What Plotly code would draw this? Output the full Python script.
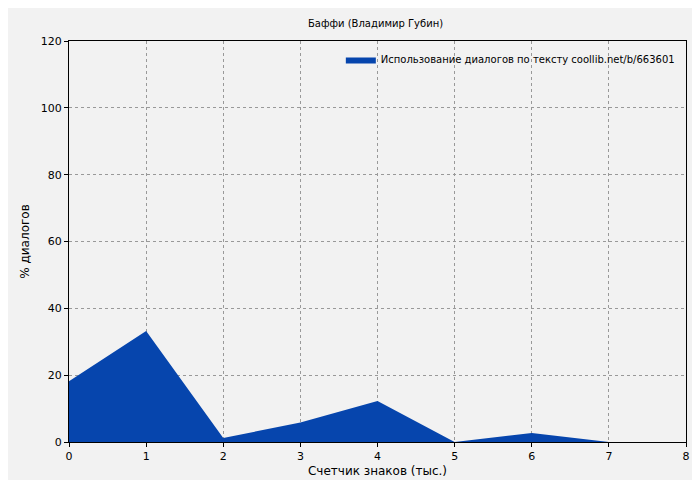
import plotly.graph_objects as go

x_vals = [0, 1, 2, 3, 4, 5, 6, 7]
dialog_pct = [18.2, 33.2, 1.2, 5.8, 12.3, 0, 2.7, 0]
x_ticks = [0, 1, 2, 3, 4, 5, 6, 7, 8]
y_ticks = [0, 20, 40, 60, 80, 100, 120]

fig = go.Figure()
fig.add_trace(go.Scatter(x=x_vals, y=dialog_pct, fill='tozeroy', mode='lines',
                         line=dict(color='#0645AD', width=0), fillcolor='#0645AD',
                         name='Использование диалогов по тексту coollib.net/b/663601'))
ax = dict(showline=True, linecolor='black', mirror=True, ticks='outside', ticklen=4,
          tickcolor='black', showgrid=True, gridcolor='#999', griddash='dot', zeroline=False,
          tickfont=dict(size=11, color='black'))
fig.update_layout(
    width=700, height=480, paper_bgcolor='#f2f2f2', plot_bgcolor='#f2f2f2',
    margin=dict(l=61, r=22, t=33, b=40),
    font=dict(family='DejaVu Sans', size=10, color='black'),
    title=dict(text='Баффи (Владимир Губин)', x=0.525, xanchor='center', y=0.975, font=dict(size=10)),
    xaxis=dict(range=[0, 8], tickvals=x_ticks, title=dict(text='Счетчик знаков (тыс.)', standoff=4), **ax),
    yaxis=dict(range=[0, 120], tickvals=y_ticks, title=dict(text='% диалогов', standoff=8), **ax),
    legend=dict(x=0.99, y=0.99, xanchor='right', yanchor='top', bgcolor='rgba(0,0,0,0)', font=dict(size=10)),
    showlegend=True,
)
fig.write_html('out.html')
